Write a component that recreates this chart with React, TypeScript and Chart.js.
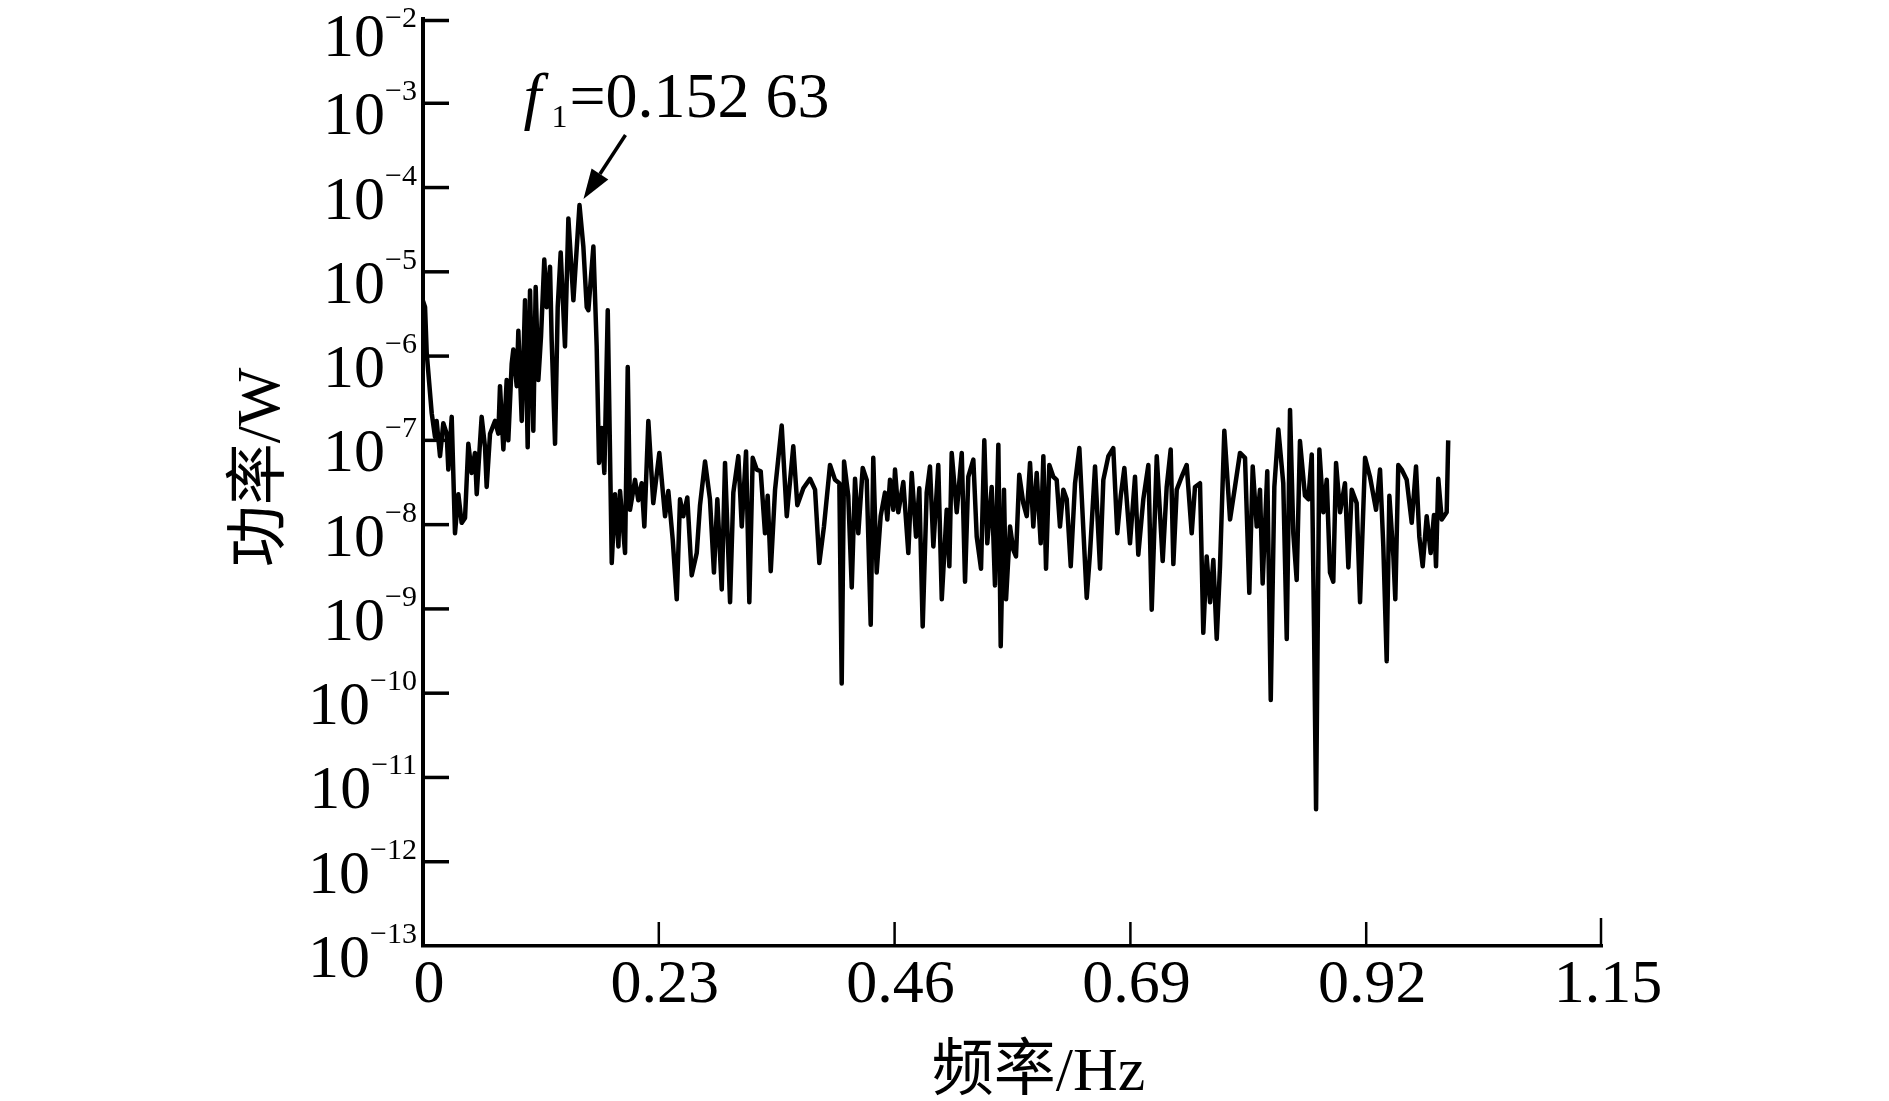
import React, { useEffect, useRef } from "react";
import { Chart, registerables } from "chart.js";

Chart.register(...registerables);

// Frequency (Hz) and power (W)
const freqHz = [
  0.0, 0.002, 0.0036, 0.0085, 0.0117, 0.0133, 0.0166, 0.0198, 0.0231, 0.0247,
  0.028, 0.0312, 0.0345, 0.0377, 0.041, 0.0442, 0.0475, 0.0507, 0.0524, 0.0572,
  0.0605, 0.0621, 0.0654, 0.0702, 0.0735, 0.0751, 0.0784, 0.0816, 0.0832, 0.0865,
  0.0881, 0.0914, 0.093, 0.0963, 0.0995, 0.1021, 0.1044, 0.1076, 0.1099, 0.1125,
  0.1151, 0.1183, 0.1206, 0.1239, 0.1255, 0.1288, 0.1314, 0.1343, 0.1385, 0.1418,
  0.1467, 0.15263, 0.1564, 0.1597, 0.1613, 0.1662, 0.1694, 0.1717, 0.1743, 0.1769,
  0.1802, 0.1841, 0.1873, 0.1906, 0.1922, 0.1971, 0.1997, 0.2019, 0.2068, 0.21,
  0.2133, 0.2159, 0.2198, 0.2246,
  0.2305, 0.2361, 0.2393, 0.2436, 0.2475, 0.2507, 0.2539, 0.2578, 0.2621, 0.267,
  0.2702, 0.2751, 0.2799, 0.2838, 0.2871, 0.2914, 0.2946, 0.2995, 0.3027, 0.3076,
  0.3109, 0.3151, 0.3183, 0.3216, 0.3255, 0.3294, 0.3336, 0.3362, 0.3392, 0.3434,
  0.3499, 0.3548, 0.3612, 0.3651, 0.371, 0.3775, 0.3824, 0.3866, 0.3911, 0.397,
  0.4019, 0.4061, 0.4084, 0.4107, 0.4148, 0.4182, 0.4214, 0.4246, 0.4289, 0.4328,
  0.4367, 0.4392, 0.4425, 0.4464, 0.4506, 0.4529, 0.4555, 0.4587, 0.4604, 0.4636,
  0.4685, 0.4734, 0.4767, 0.4809, 0.4841, 0.4874, 0.4913, 0.4945, 0.4978, 0.5026,
  0.506, 0.5108, 0.5134, 0.5157, 0.5206, 0.5255, 0.5287, 0.5319, 0.5368, 0.5401,
  0.5443, 0.5475, 0.5504, 0.5547, 0.5579, 0.5612, 0.5635, 0.5667, 0.5687, 0.5726,
  0.5758, 0.5784, 0.5816, 0.5855, 0.5889, 0.5921, 0.5953, 0.5986, 0.6025, 0.6051,
  0.6077, 0.6109, 0.6148, 0.6181, 0.6213, 0.6246, 0.6279, 0.6318, 0.636, 0.6402,
  0.6441, 0.6474, 0.6506, 0.6555, 0.6604, 0.6636, 0.6685, 0.6733, 0.6772, 0.6806,
  0.6841, 0.6896, 0.6945, 0.6977, 0.7026, 0.7075, 0.7108, 0.7157, 0.7215, 0.7254,
  0.7293, 0.7319, 0.7352,
  0.74, 0.7449, 0.7498, 0.753, 0.7579, 0.7611, 0.7644, 0.7677, 0.7709, 0.7742,
  0.7774, 0.7816, 0.7872, 0.792, 0.7969, 0.8018, 0.806, 0.8093, 0.8132, 0.8164,
  0.819, 0.8235, 0.8269, 0.8304, 0.8343, 0.8391, 0.8425, 0.8457, 0.8489, 0.8522,
  0.8554, 0.8603, 0.8636, 0.8669, 0.8691, 0.8711, 0.8743, 0.8782, 0.8815, 0.8847,
  0.8879, 0.8906, 0.8945, 0.8993, 0.9026, 0.9059, 0.9107, 0.914, 0.9189, 0.9237,
  0.9296, 0.9335, 0.9367, 0.94, 0.9426, 0.9465, 0.9484, 0.9513, 0.9546, 0.9595,
  0.9644, 0.9686, 0.9718, 0.9751, 0.979, 0.9829, 0.9861, 0.9881, 0.9903, 0.9937,
  0.9985, 1.0,
];

const powerW = [
  4.5e-6, 3.8e-6, 1.1e-6, 2.1e-7, 1.1e-7, 1.7e-7, 6.5e-8, 1.6e-7, 1.2e-7, 4.5e-8,
  1.9e-7, 7.9e-9, 2.3e-8, 1.05e-8, 1.2e-8, 9.1e-8, 4.1e-8, 7.1e-8, 2.3e-8, 1.9e-7,
  8.3e-8, 2.8e-8, 1.2e-7, 1.7e-7, 1.2e-7, 4.4e-7, 7.8e-8, 5.2e-7, 1.0e-7, 8.1e-7,
  1.2e-6, 4.4e-7, 2.0e-6, 1.7e-7, 4.6e-6, 8.3e-8, 6.0e-6, 1.3e-7, 6.6e-6, 5.2e-7,
  1.7e-6, 1.4e-5, 3.8e-6, 1.15e-5, 1.55e-6, 9.1e-8, 3.8e-6, 1.7e-5, 1.3e-6, 4.3e-5,
  4.6e-6, 6.2e-5, 2.0e-5, 3.8e-6, 3.5e-6, 2.0e-5, 1.3e-6, 5.4e-8, 1.4e-7, 4.1e-8,
  3.5e-6, 3.5e-9, 2.3e-8, 5.5e-9, 2.5e-8, 4.6e-9, 7.4e-7, 1.5e-8, 3.4e-8, 1.95e-8,
  3.1e-8, 9.5e-9, 1.7e-7, 1.8e-8,
  7.1e-8, 1.26e-8, 2.5e-8, 6.6e-9, 1.3e-9, 2.0e-8, 1.26e-8, 2.1e-8, 2.5e-9, 4.6e-9,
  1.7e-8, 5.6e-8, 2.0e-8, 2.7e-9, 2.0e-8, 1.7e-9, 5.4e-8, 1.2e-9, 2.4e-8, 6.5e-8,
  9.5e-9, 7.4e-8, 1.2e-9, 6.2e-8, 4.5e-8, 4.3e-8, 7.9e-9, 2.2e-8, 2.8e-9, 2.6e-8,
  1.5e-7, 1.26e-8, 8.5e-8, 1.7e-8, 2.7e-8, 3.5e-8, 2.6e-8, 3.5e-9, 9.5e-9, 5.1e-8,
  3.4e-8, 3.1e-8, 1.3e-10, 5.6e-8, 2.2e-8, 1.8e-9, 3.5e-8, 7.9e-9, 4.7e-8, 3.4e-8,
  6.5e-10, 6.2e-8, 2.7e-9, 1.26e-8, 2.4e-8, 1.15e-8, 3.4e-8, 1.5e-8, 4.5e-8, 1.4e-8,
  3.2e-8, 4.6e-9, 4.1e-8, 7.2e-9, 2.7e-8, 6.2e-10, 2.4e-8, 4.9e-8, 5.5e-9, 5.1e-8,
  1.3e-9, 1.5e-8, 3.2e-9, 7.1e-8, 1.4e-8, 7.1e-8, 2.1e-9, 3.7e-8, 5.9e-8, 7.2e-9,
  3.0e-9, 1.0e-7, 6.0e-9, 2.8e-8, 1.9e-9, 8.9e-8, 3.6e-10, 2.6e-8, 1.3e-9, 9.5e-9,
  5.0e-9, 4.2e-9, 3.9e-8, 1.8e-8, 1.26e-8, 5.4e-8, 9.5e-9, 4.1e-8, 6.0e-9, 6.5e-8,
  3.0e-9, 5.1e-8, 3.7e-8, 3.4e-8, 9.5e-9, 2.6e-8, 2.0e-8, 3.2e-9, 3.1e-8, 8.1e-8,
  8.7e-9, 1.35e-9, 4.6e-9, 4.9e-8, 3.0e-9, 3.4e-8, 6.5e-8, 8.1e-8, 7.9e-9, 2.2e-8,
  4.7e-8, 6.0e-9, 3.7e-8, 4.4e-9, 2.0e-8, 5.1e-8, 9.8e-10, 6.5e-8, 3.7e-9, 2.8e-8,
  7.8e-8, 3.4e-9, 2.6e-8,
  3.7e-8, 5.1e-8, 7.9e-9, 2.8e-8, 3.1e-8, 5.2e-10, 4.2e-9, 1.2e-9, 3.8e-9, 4.4e-10,
  3.2e-9, 1.3e-7, 1.15e-8, 2.8e-8, 7.1e-8, 6.2e-8, 1.55e-9, 4.9e-8, 9.5e-9, 2.6e-8,
  2.0e-9, 4.3e-8, 8.3e-11, 2.8e-8, 1.35e-7, 3.1e-8, 4.4e-10, 2.3e-7, 7.9e-9, 2.2e-9,
  9.8e-8, 2.2e-8, 2.0e-8, 6.8e-8, 6.2e-10, 4.2e-12, 7.8e-8, 1.4e-8, 3.4e-8, 2.7e-9,
  2.1e-9, 5.4e-8, 1.4e-8, 3.1e-8, 3.1e-9, 2.6e-8, 1.8e-8, 1.2e-9, 6.2e-8, 3.7e-8,
  1.5e-8, 4.5e-8, 5.5e-9, 2.4e-10, 2.2e-8, 4.2e-9, 1.3e-9, 5.1e-8, 4.5e-8, 3.4e-8,
  1.05e-8, 4.9e-8, 7.2e-9, 3.2e-9, 1.26e-8, 4.6e-9, 1.3e-8, 3.2e-9, 3.5e-8, 1.15e-8,
  1.4e-8, 1.0e-7,
];

// Axis ticks and labels
const xTicks = [0, 0.23, 0.46, 0.69, 0.92, 1.15];
const xTickLabels = ["0", "0.23", "0.46", "0.69", "0.92", "1.15"];
const yTicks = [1e-2, 1e-3, 1e-4, 1e-5, 1e-6, 1e-7, 1e-8, 1e-9, 1e-10, 1e-11, 1e-12, 1e-13];
const yTickBase = "10";
const yTickExp = ["−2", "−3", "−4", "−5", "−6", "−7", "−8", "−9", "−10", "−11", "−12", "−13"];

const xTitle = "频率/Hz";
const yTitle = "功率/W";

// Peak annotation
const peakFreq = 0.15263;
const peakPower = 6.2e-5;
const peakVar = "f";
const peakSub = "1";
const peakValueText = "=0.152 63";

const SERIF = '"Liberation Serif", "Times New Roman", "Noto Sans CJK SC", serif';

const decorPlugin = {
  id: "decor",
  afterDraw(chart: any) {
    const ctx = chart.ctx as CanvasRenderingContext2D;
    const xs = chart.scales.x;
    const ys = chart.scales.y;
    const area = chart.chartArea;
    ctx.save();
    ctx.strokeStyle = "#000";
    ctx.fillStyle = "#000";

    // x ticks (inward) + labels
    xTicks.forEach((v, i) => {
      const px = xs.getPixelForValue(v);
      if (i > 0) {
        ctx.lineWidth = 2.5;
        const tx = i === xTicks.length - 1 ? px - 1 : px;
        ctx.beginPath();
        ctx.moveTo(tx, area.bottom);
        ctx.lineTo(tx, area.bottom - (i === xTicks.length - 1 ? 28 : 24));
        ctx.stroke();
      }
      ctx.font = `62px ${SERIF}`;
      ctx.textAlign = "center";
      ctx.textBaseline = "alphabetic";
      ctx.fillText(xTickLabels[i], px + 6, area.bottom + 56);
    });

    // y ticks (inward) + labels with superscripts
    yTicks.forEach((v, i) => {
      const py = ys.getPixelForValue(v);
      if (i < yTicks.length - 1) {
        ctx.lineWidth = 3.5;
        const ty = i === 0 ? py + 1.5 : py;
        ctx.beginPath();
        ctx.moveTo(area.left, ty);
        ctx.lineTo(area.left + 26, ty);
        ctx.stroke();
      }
      ctx.textAlign = "right";
      ctx.textBaseline = "alphabetic";
      ctx.font = `30px ${SERIF}`;
      const supRight = area.left - 6;
      const supBase = Math.max(py - 3, 27);
      ctx.fillText(yTickExp[i], supRight, supBase);
      const supW = ctx.measureText(yTickExp[i]).width;
      ctx.font = `62px ${SERIF}`;
      ctx.fillText(yTickBase, supRight - supW, Math.max(py + 31, 56));
    });

    // axis titles
    ctx.font = `62px ${SERIF}`;
    ctx.textAlign = "center";
    ctx.textBaseline = "alphabetic";
    ctx.fillText(xTitle, (area.left + area.right) / 2 + 26, area.bottom + 144);

    ctx.save();
    ctx.translate(area.left - 160, (area.top + area.bottom) / 2 - 15);
    ctx.rotate(-Math.PI / 2);
    ctx.textBaseline = "middle";
    ctx.fillText(yTitle, 0, 0);
    ctx.restore();

    // peak annotation
    const px = xs.getPixelForValue(peakFreq);
    const py = ys.getPixelForValue(peakPower);
    const tipX = px + 4;
    const tipY = py - 6;
    const tailX = px + 46;
    const tailY = py - 70;
    const ang = Math.atan2(tipY - tailY, tipX - tailX);
    const headLen = 30;
    const headW = 10;
    const bx = tipX - headLen * Math.cos(ang);
    const by = tipY - headLen * Math.sin(ang);
    ctx.lineWidth = 3.5;
    ctx.beginPath();
    ctx.moveTo(tailX, tailY);
    ctx.lineTo(bx, by);
    ctx.stroke();
    ctx.beginPath();
    ctx.moveTo(tipX, tipY);
    ctx.lineTo(bx + headW * Math.sin(ang), by - headW * Math.cos(ang));
    ctx.lineTo(bx - headW * Math.sin(ang), by + headW * Math.cos(ang));
    ctx.closePath();
    ctx.fill();

    const x0 = px - 56;
    const base = py - 88;
    ctx.textAlign = "left";
    ctx.textBaseline = "alphabetic";
    ctx.font = `italic 64px ${SERIF}`;
    ctx.fillText(peakVar, x0, base);
    ctx.font = `32px ${SERIF}`;
    ctx.fillText(peakSub, x0 + 28, base + 10);
    ctx.font = `64px ${SERIF}`;
    ctx.fillText(peakValueText, x0 + 46, base);

    ctx.restore();
  },
};

export default function App() {
  const canvasRef = useRef<HTMLCanvasElement | null>(null);

  useEffect(() => {
    const canvas = canvasRef.current;
    if (!canvas) return;
    const points = freqHz.map((f, i) => ({ x: f, y: powerW[i] }));
    const chart = new Chart(canvas, {
      type: "line",
      data: {
        datasets: [
          {
            data: points,
            borderColor: "#000",
            borderWidth: 4.5,
            pointRadius: 0,
            fill: false,
            tension: 0,
            borderJoinStyle: "round",
          } as any,
        ],
      },
      options: {
        responsive: false,
        animation: false,
        devicePixelRatio: 1,
        layout: { padding: { left: 423, top: 19, right: 287, bottom: 155 } },
        plugins: {
          legend: { display: false },
          tooltip: { enabled: false },
          title: { display: false },
        },
        scales: {
          x: {
            type: "linear",
            min: 0,
            max: 1.15,
            grid: { display: false, drawTicks: false },
            border: { display: true, color: "#000", width: 3.5 },
            ticks: { display: false },
            afterBuildTicks: (s: any) => {
              s.ticks = xTicks.map((v) => ({ value: v }));
            },
          },
          y: {
            type: "logarithmic",
            min: 1e-13,
            max: 1e-2,
            grid: { display: false, drawTicks: false },
            border: { display: true, color: "#000", width: 4 },
            ticks: { display: false },
            afterBuildTicks: (s: any) => {
              s.ticks = yTicks.map((v) => ({ value: v }));
            },
          },
        },
      } as any,
      plugins: [decorPlugin],
    });
    return () => chart.destroy();
  }, []);

  return (
    <div style={{ position: "absolute", left: 0, top: 0, width: 1889, height: 1101, background: "#fff" }}>
      <canvas ref={canvasRef} width={1889} height={1101} style={{ width: 1889, height: 1101, display: "block" }} />
    </div>
  );
}
